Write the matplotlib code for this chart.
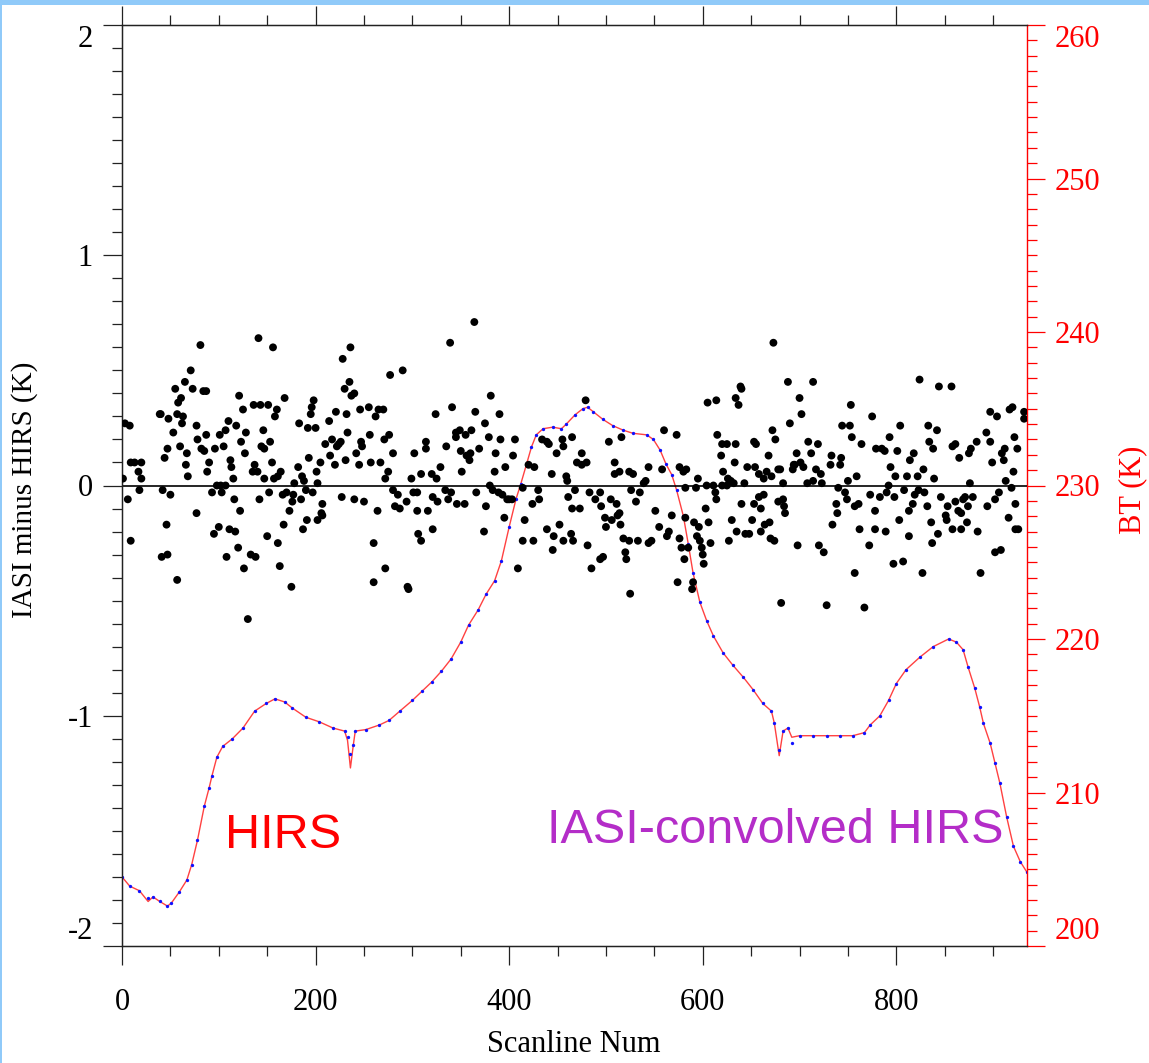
import matplotlib
matplotlib.use('Agg')
import matplotlib.pyplot as plt
from matplotlib.patches import Rectangle
from matplotlib.ticker import MultipleLocator

# ---------------- data ----------------
# (scanline, IASI minus HIRS [K])
diff_points = [
(1,0.03),(3,0.27),(8,0.26),(6,-0.06),(9,-0.24),(9,0.10),(13,0.10),(20,0.10),(17,0.06),(20,0.03),(18,-0.02),
(39,0.31),(40,0.31),(48,0.29),(44,0.12),(47,0.16),(42,-0.02),(50,-0.04),(46,-0.17),(41,-0.31),(47,-0.30),(57,-0.41),
(53,0.23),(55,0.42),(58,0.36),(61,0.38),(57,0.31),(63,0.30),(62,0.27),(60,0.17),(67,0.14),(66,0.09),(68,0.04),
(65,0.45),(71,0.50),(73,0.42),(81,0.61),(77,0.26),(78,0.20),(77,-0.12),(84,0.41),(87,0.41),(82,0.16),(85,0.15),
(87,0.22),(90,0.10),(88,0.06),(96,0.16),(101,0.22),(105,0.17),(107,0.24),(110,0.28),(118,0.26),(121,0.39),(125,0.33),
(128,0.23),(123,0.19),(127,0.14),(112,0.11),(113,0.08),(115,0.03),(98,0.00),(102,0.00),(107,0.00),(93,-0.03),(103,-0.03),
(116,-0.06),(122,-0.11),(95,-0.21),(100,-0.18),(111,-0.19),(117,-0.20),(120,-0.27),(108,-0.31),(126,-0.36),(133,-0.30),
(138,-0.31),(130,-0.58),(136,0.35),(143,0.35),(151,0.35),(141,0.64),(156,0.60),(160,0.33),(158,0.30),(168,0.38),
(146,0.24),(144,0.17),(147,0.16),(153,0.19),(137,0.09),(135,0.06),(140,0.06),(147,0.03),(155,0.10),(157,0.03),
(161,0.04),(164,0.06),(142,-0.06),(152,-0.03),(150,-0.22),(161,-0.25),(163,-0.35),(167,-0.17),(166,-0.04),(170,-0.03),
(173,-0.11),(176,-0.07),(175,-0.44),(178,0.01),(177,-0.04),(182,0.08),(183,0.27),(185,-0.06),(186,0.04),(188,0.02),
(190,-0.02),(187,-0.19),(191,-0.15),(193,0.12),(192,0.25),(195,0.31),(196,0.34),(198,0.37),(200,0.25),(197,-0.03),
(201,0.06),(202,0.01),(205,0.10),(207,-0.08),(206,-0.12),(207,-0.13),(202,-0.15),(210,0.18),(214,0.28),(217,0.20),
(215,0.13),(220,0.09),(221,0.32),(222,0.17),(224,0.18),(226,0.19),(228,0.55),(230,0.42),(232,0.31),(233,0.23),
(231,0.11),(227,-0.05),(235,0.45),(236,0.60),(237,0.39),(240,0.40),(240,-0.06),(242,0.14),(245,0.09),(246,0.33),
(247,0.19),(248,0.17),(250,-0.07),(255,0.34),(256,0.22),(257,0.10),(260,-0.25),(260,-0.42),(262,0.30),(265,0.33),
(270,0.33),(264,-0.11),(267,0.10),(271,0.20),(272,-0.36),(272,0.03),(275,0.06),(276,0.22),(277,0.48),(280,0.14),
(280,-0.02),(285,-0.04),(282,-0.09),(287,-0.10),(290,0.50),(294,-0.07),(296,-0.45),(295,-0.44),(299,0.03),(302,0.14),
(301,-0.03),(305,-0.03),(305,-0.11),(306,-0.21),(309,-0.24),(309,0.05),
(314,0.19),(314,0.16),(316,-0.11),(320,0.05),(321,-0.19),(321,-0.05),(324,0.31),(325,0.03),(326,-0.07),(329,0.08),
(334,-0.02),(335,0.17),(337,-0.06),(339,0.62),(340,-0.03),(341,0.34),(345,0.23),(345,0.21),(346,-0.08),(349,0.24),
(350,0.15),(351,0.06),(354,-0.08),(355,0.22),(356,0.13),(359,0.11),(360,0.14),(361,0.24),(364,0.71),(365,0.32),
(366,-0.03),(369,0.16),(374,-0.20),(375,0.27),(376,-0.09),(379,0.21),(381,0.39),(380,0.00),(383,-0.02),(385,0.06),
(386,0.14),(389,-0.03),(390,0.31),(391,0.20),(393,-0.04),(395,-0.14),(396,0.08),(398,-0.06),(400,-0.06),(404,0.13),
(403,-0.06),(406,0.20),(409,-0.36),(414,-0.01),(414,-0.24),(416,-0.15),(420,0.09),(424,-0.08),(425,-0.24),(426,0.08),
(430,-0.02),(431,-0.06),(434,0.20),(439,0.19),(441,0.18),(439,-0.19),(444,0.05),(445,-0.28),(446,-0.22),(449,0.14),
(452,-0.17),(455,0.20),(456,0.17),(456,-0.24),(459,0.04),(460,0.02),(461,-0.05),(464,-0.21),(465,0.21),(466,-0.24),
(465,-0.10),(468,-0.02),(470,0.10),(473,-0.10),(475,0.14),(475,0.09),(479,0.37),(480,0.10),(481,-0.26),(483,-0.03),
(485,-0.36),(489,-0.06),(494,-0.03),(494,-0.32),(497,-0.31),(495,-0.09),(499,-0.14),(500,-0.18),(503,0.19),(505,-0.06),
(506,-0.15),(509,0.05),(509,0.10),(511,-0.08),(512,-0.13),(514,0.06),(515,-0.17),(514,-0.12),(516,0.21),(518,-0.23),
(520,-0.29),(521,-0.32),(524,-0.24),(524,0.06),(525,-0.47),(526,-0.02),(528,0.05),(531,-0.07),(533,-0.24),(535,-0.03),
(539,0.01),(541,0.02),(544,0.08),(544,-0.25),(547,-0.24),(551,-0.11),(555,-0.18),(558,0.07),(560,0.24),(563,-0.22),
(565,-0.20),(568,-0.13),(573,0.22),(574,-0.42),(576,0.08),(576,-0.23),(578,-0.27),(580,0.06),(581,-0.32),(582,-0.01),
(582,-0.14),(583,0.07),(585,-0.27),(589,-0.45),(590,-0.42),(591,-0.16),(593,-0.01),(594,-0.22),(595,0.03),(596,-0.18),
(597,-0.24),(599,-0.27),(600,-0.30),(601,-0.34),(603,-0.10),(604,0.00),(605,0.36),(606,-0.16),(608,-0.25),(611,0.00),
(613,-0.03),(614,0.37),(615,0.22),(614,-0.06),(619,0.13),(620,0.18),(621,0.06),(620,0.00),
(625,0.18),(625,0.00),(626,0.03),(629,0.02),(630,-0.15),(627,-0.24),(632,0.01),(633,0.10),(634,0.18),(634,0.38),
(637,0.35),(639,0.43),(640,0.42),(635,-0.20),(640,-0.08),(643,0.01),(644,-0.21),(646,0.08),(648,-0.21),(651,-0.15),
(653,0.19),(655,0.18),(654,0.08),(653,-0.08),(658,0.05),(658,-0.05),(660,-0.10),(660,-0.20),(663,-0.04),(663,0.03),
(664,-0.17),(666,0.06),(668,0.13),(669,-0.16),(670,-0.23),(671,0.04),(672,0.24),(673,0.62),(674,-0.24),(675,0.20),
(678,0.07),(678,-0.07),(680,0.07),(681,-0.51),(683,-0.06),(683,0.01),(684,-0.09),(685,-0.12),(688,0.45),(690,0.27),
(693,0.07),(694,0.09),(695,0.09),(697,0.14),(698,-0.26),(700,0.38),(702,0.31),(701,0.10),(704,0.08),(708,0.01),
(709,0.19),(712,0.14),(714,0.45),(714,0.02),(717,0.07),(719,0.18),(720,-0.26),(722,0.05),(723,0.01),(725,-0.29),
(728,-0.52),(732,0.09),(733,0.13),(734,-0.17),(738,-0.08),(739,-0.12),(740,-0.01),(742,0.09),(743,0.12),(744,0.26),
(747,-0.03),(749,-0.06),(750,0.02),(752,0.26),(753,0.35),(754,0.21),(757,-0.38),(757,-0.09),(759,0.04),(761,-0.08),
(762,-0.19),(764,0.18),(767,-0.53),(772,-0.26),(773,-0.04),(775,0.30),(778,-0.19),(778,-0.11),(779,0.16),(783,-0.05),
(785,0.16),(788,0.15),(789,-0.20),(790,-0.03),(792,0.00),(793,0.21),(794,0.08),(797,-0.34),(798,-0.05),(799,0.04),
(801,0.15),(803,-0.15),(804,0.26),(807,-0.33),(808,-0.02),(811,0.04),(813,-0.22),(813,-0.11),(814,0.11),(817,-0.08),
(818,0.14),(819,-0.04),(822,0.04),(823,-0.02),(824,0.46),(827,-0.38),(828,0.07),(829,-0.03),(832,-0.09),(833,0.26),
(834,0.19),(836,-0.16),(838,0.16),(837,-0.25),(839,0.03),(842,0.24),(843,-0.21),(844,0.43),(846,-0.05),(851,-0.13),
(852,-0.15),(853,-0.09),(857,0.43),(858,-0.19),(858,0.17),(861,0.18),(861,-0.07),(864,-0.11),(865,0.12),(867,-0.12),
(867,-0.19),(869,-0.06),(871,-0.05),(873,-0.16),(874,-0.09),(875,0.14),(877,0.16),(876,0.01),(879,-0.05),(883,0.19),
(884,-0.20),(887,-0.38),(893,0.23),(894,-0.09),(897,0.19),(897,0.32),(899,0.10),(902,-0.29),(902,-0.06),(904,0.30),
(906,-0.03),(908,-0.28),(909,0.14),(911,0.11),(912,0.16),(913,0.02),(916,-0.14),(917,0.33),(920,0.34),(919,-0.01),
(921,0.06),(922,0.21),(923,-0.08),(925,0.16),(923,-0.19),(926,-0.19),(932,0.32),(932,0.29),
]

bt_scan = [0, 8, 18, 27, 32, 39, 47, 51, 59, 67, 72, 78, 85, 90, 93, 98, 104, 114, 125, 137,
           149, 158, 168, 176, 190, 204, 218, 230, 233, 236, 239, 241, 252, 266, 276, 287, 300, 310, 320, 330,
           340, 350, 358, 368, 376, 385, 392, 400, 407, 412, 418, 423, 428, 435, 445, 454, 459, 468, 476, 481,
           487, 497, 507, 518, 528, 542, 549, 556, 562, 568, 573, 580, 585, 590, 597, 604, 611, 621, 631, 642,
           652, 662, 671, 674, 679, 683, 688, 692, 700, 714, 728, 742, 755, 767, 773, 783, 792, 800, 810, 824,
           838, 854, 862, 869, 874, 881, 886, 890, 897, 902, 907, 914, 921, 928, 935]
bt_hirs = [204.5, 203.9, 203.6, 202.9, 203.2, 202.9, 202.6, 202.8, 203.5, 204.3, 205.3, 206.9, 209.1, 210.3, 211.1, 212.3, 213.0, 213.5, 214.2, 215.3,
           215.8, 216.1, 215.9, 215.5, 214.9, 214.6, 214.2, 214.0, 213.4, 211.6, 213.1, 214.0, 214.1, 214.4, 214.7, 215.3, 216.0, 216.6, 217.2, 217.9,
           218.7, 219.8, 220.9, 221.9, 222.9, 223.8, 225.1, 227.3, 229.1, 230.1, 231.4, 232.5, 233.3, 233.7, 233.8, 233.7, 234.0, 234.6, 235.0, 235.1,
           234.8, 234.3, 233.9, 233.6, 233.4, 233.3, 233.0, 232.3, 231.4, 230.7, 229.7, 228.0, 226.2, 224.3, 222.4, 221.2, 220.2, 219.1, 218.3, 217.5,
           216.7, 215.8, 215.3, 214.5, 212.4, 214.0, 214.2, 213.6, 213.7, 213.7, 213.7, 213.7, 213.7, 213.9, 214.4, 215.0, 216.0, 217.1, 218.0, 218.8,
           219.5, 220.0, 219.8, 219.3, 218.2, 216.8, 215.6, 214.5, 213.2, 211.9, 210.6, 208.4, 206.5, 205.5, 204.8]
bt_iasi = [204.5, 203.9, 203.6, 203.1, 203.2, 202.9, 202.6, 202.8, 203.5, 204.3, 205.3, 206.9, 209.1, 210.3, 211.1, 212.3, 213.0, 213.5, 214.2, 215.3,
           215.8, 216.1, 215.9, 215.5, 214.9, 214.6, 214.2, 214.0, 213.6, 212.5, 213.1, 214.0, 214.1, 214.4, 214.7, 215.3, 216.0, 216.6, 217.2, 217.9,
           218.7, 219.8, 220.9, 221.9, 222.9, 223.8, 225.1, 227.3, 229.1, 230.1, 231.4, 232.5, 233.3, 233.7, 233.8, 233.7, 234.0, 234.6, 235.0, 235.1,
           234.8, 234.3, 233.9, 233.6, 233.4, 233.3, 233.0, 232.3, 231.4, 230.7, 229.7, 228.0, 226.2, 224.3, 222.4, 221.2, 220.2, 219.1, 218.3, 217.5,
           216.7, 215.8, 215.3, 214.5, 212.8, 214.0, 214.2, 213.2, 213.7, 213.7, 213.7, 213.7, 213.7, 213.9, 214.4, 215.0, 216.0, 217.1, 218.0, 218.8,
           219.5, 220.0, 219.8, 219.3, 218.2, 216.8, 215.6, 214.5, 213.2, 211.9, 210.6, 208.4, 206.5, 205.5, 204.8]

x_ticks = [0, 200, 400, 600, 800]
x_labels = ['0', '200', '400', '600', '800']
left_ticks = [-2, -1, 0, 1, 2]
left_labels = ['-2', '-1', '0', '1', '2']
right_ticks = [200, 210, 220, 230, 240, 250, 260]
right_labels = ['200', '210', '220', '230', '240', '250', '260']

# ---------------- figure ----------------
plt.rcParams['font.family'] = ['Liberation Serif', 'DejaVu Serif']

W, H = 1149, 1063
fig = plt.figure(figsize=(W / 100, H / 100), dpi=100)
L, R, T, B = 122, 1027, 25, 946
ax = fig.add_axes([L / W, 1 - B / H, (R - L) / W, (B - T) / H])
ax2 = ax.twinx()
ax.set_zorder(ax2.get_zorder() + 1)
ax.patch.set_visible(False)

# BT curves (right axis)
ax2.plot(bt_scan, bt_hirs, color='#ff2020', lw=1.0, alpha=0.85)
ax2.plot(bt_scan, bt_iasi, ls='none', marker='o', ms=2.4, color='#1010ff', mec='none')
ax2.set_ylim(200, 260)

# differences (left axis)
ds = [p[0] for p in diff_points]
dv = [p[1] for p in diff_points]
ax.axhline(0, color='black', lw=1.2, zorder=2)
ax.scatter(ds, dv, s=32, color='black', edgecolors='none', zorder=3)
ax.set_xlim(0, 935)
ax.set_ylim(-2, 2)

# ticks
ax.set_xticks(x_ticks)
ax.set_xticklabels(x_labels)
ax.set_yticks(left_ticks)
ax.set_yticklabels(left_labels)
ax.xaxis.set_minor_locator(MultipleLocator(50))
ax.yaxis.set_minor_locator(MultipleLocator(0.1))
ax.tick_params(axis='both', which='major', direction='out', length=14, width=0.9, labelsize=22, color='#222222')
ax.tick_params(axis='both', which='minor', direction='out', length=7, width=0.9, color='#222222')
ax.tick_params(axis='x', which='both', top=True, labeltop=False)
ax.tick_params(axis='x', which='major', pad=16)
ax.tick_params(axis='y', which='both', right=False, pad=7)

ax2.set_yticks(right_ticks)
ax2.set_yticklabels(right_labels)
ax2.yaxis.set_minor_locator(MultipleLocator(1))
ax2.tick_params(axis='y', which='major', direction='out', length=13, width=0.9, colors='red', labelsize=22, pad=7)
ax2.tick_params(axis='y', which='minor', direction='out', length=7, width=0.9, colors='red')

# end labels pulled inward
ax.yaxis.get_major_ticks()[0].label1.set_verticalalignment('bottom')
ax.yaxis.get_major_ticks()[-1].label1.set_verticalalignment('top')
ax2.yaxis.get_major_ticks()[0].label2.set_verticalalignment('bottom')
ax2.yaxis.get_major_ticks()[-1].label2.set_verticalalignment('top')

for sp in ['left', 'bottom', 'top']:
    ax.spines[sp].set_linewidth(1.0)
    ax.spines[sp].set_color('#222222')
ax.spines['right'].set_visible(False)
ax2.spines['right'].set_color('red')
ax2.spines['right'].set_linewidth(1.0)

# axis labels
ax.set_xlabel('Scanline Num', fontsize=22)
ax.xaxis.set_label_coords(0.4995, (B - 1045) / (B - T))
ax.xaxis.label.set_verticalalignment('center')
ax.set_ylabel('IASI minus HIRS (K)', fontsize=21)
ax.yaxis.set_label_coords((25 - L) / (R - L), 0.495)
ax.yaxis.label.set_verticalalignment('center')
ax.yaxis.label.set_horizontalalignment('center')
ax2.set_ylabel('BT (K)', fontsize=22, color='red')
ax2.yaxis.set_label_coords((1133 - L) / (R - L), 0.495)
ax2.yaxis.label.set_verticalalignment('center')
ax2.yaxis.label.set_horizontalalignment('center')

# annotations
ax.text(106, -1.52, 'HIRS', color='#ff0000', fontsize=35, family=['Liberation Sans', 'DejaVu Sans'],
        ha='left', va='center')
ax.text(439, -1.50, 'IASI-convolved HIRS', color='#b42dc8', fontsize=35, family=['Liberation Sans', 'DejaVu Sans'],
        ha='left', va='center')

# light blue frame on top and left
fig.add_artist(Rectangle((0, 1 - 5 / H), 1, 5 / H, transform=fig.transFigure, facecolor='#90caf9', edgecolor='none'))
fig.add_artist(Rectangle((0, 0), 2 / W, 1, transform=fig.transFigure, facecolor='#90caf9', edgecolor='none'))

fig.savefig('out.png', dpi=100)
